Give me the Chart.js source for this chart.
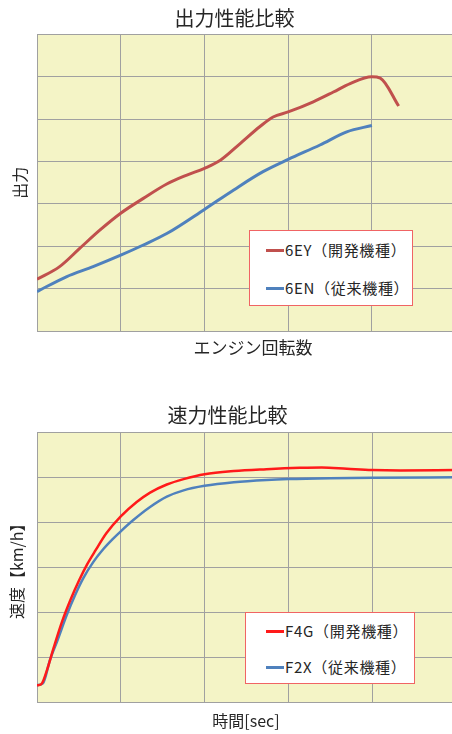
<!DOCTYPE html>
<html lang="ja">
<head>
<meta charset="utf-8">
<script src="https://cdn.jsdelivr.net/npm/chart.js@4.4.1/dist/chart.umd.min.js"></script>
<style>
  html, body { margin: 0; padding: 0; background: #fff; overflow: hidden; width: 452px; height: 734px; }
  .wrap { position: absolute; left: 0; }
  #wrap-top { top: 0; width: 506px; height: 360px; }
  #wrap-bottom { top: 380px; width: 496px; height: 354px; }
  .legend { position: absolute; background: #fff; border: 1px solid #f06464; box-sizing: border-box;
            font-family: "Noto Sans CJK JP", "Noto Sans", sans-serif; font-size: 15px; color: #262626; letter-spacing: 0.7px; }
  .legend div { position: absolute; white-space: nowrap; line-height: 18px; height: 18px; }
  .legend i { display: inline-block; width: 18px; height: 3px; vertical-align: middle; margin-right: 1px; position: relative; top: -1px; }
</style>
</head>
<body>
<div class="wrap" id="wrap-top"><canvas id="chart-top"></canvas></div>
<div class="wrap" id="wrap-bottom"><canvas id="chart-bottom"></canvas></div>
<div class="legend" id="legend-top" style="left:249px; top:230px; width:164px; height:76px;"></div>
<div class="legend" id="legend-bottom" style="left:245px; top:612px; width:170px; height:72px;"></div>
<script>
// 出力性能比較 (engine speed in grid units, output in grid units)
const rpmEY = [0, 0.27, 0.51, 0.75, 1.0, 1.27, 1.55, 1.79, 2.0, 2.19, 2.43, 2.66, 2.82, 3.0, 3.30, 3.54, 3.74, 4.0, 4.10, 4.32];
const powerEY = [1.22, 1.52, 1.95, 2.38, 2.78, 3.13, 3.47, 3.68, 3.84, 4.03, 4.43, 4.82, 5.05, 5.17, 5.41, 5.64, 5.84, 6.0, 5.97, 5.31];
const rpmEN = [0, 0.35, 0.67, 1.0, 1.27, 1.55, 2.0, 2.35, 2.70, 3.0, 3.38, 3.70, 4.0];
const powerEN = [0.93, 1.28, 1.52, 1.79, 2.03, 2.30, 2.87, 3.33, 3.76, 4.05, 4.39, 4.70, 4.85];

// 速力性能比較 (time in grid units, speed in grid units)
const timeF4G = [0, 0.05, 0.12, 0.2, 0.3, 0.4, 0.5, 0.6, 0.7, 0.83, 1.0, 1.19, 1.35, 1.55, 1.75, 2.0, 2.35, 2.74, 3.14, 3.4, 3.7, 4.0, 4.34, 4.99];
const speedF4G = [0.38, 0.40, 0.72, 1.22, 1.80, 2.28, 2.70, 3.07, 3.38, 3.76, 4.13, 4.45, 4.66, 4.84, 4.96, 5.07, 5.14, 5.18, 5.21, 5.22, 5.19, 5.16, 5.15, 5.16];
const timeF2X = [0, 0.07, 0.155, 0.245, 0.355, 0.454, 0.553, 0.673, 0.79, 0.9, 1.0, 1.15, 1.35, 1.55, 1.75, 2.0, 2.35, 2.74, 3.0, 3.5, 4.0, 4.99];
const speedF2X = [0.38, 0.42, 0.94, 1.38, 1.94, 2.38, 2.76, 3.12, 3.40, 3.62, 3.80, 4.05, 4.34, 4.57, 4.71, 4.81, 4.89, 4.94, 4.96, 4.98, 4.99, 5.0];

const topLabels = ["6EY（開発機種）", "6EN（従来機種）"];
const bottomLabels = ["F4G（開発機種）", "F2X（従来機種）"];

const font = "'Noto Sans CJK JP', 'Noto Sans', sans-serif";
const gridColor = "#a0a0a0";
const textColor = "#262626";

const plotBg = {
  id: "plotBg",
  beforeDraw(chart) {
    const a = chart.chartArea;
    const ctx = chart.ctx;
    ctx.save();
    ctx.fillStyle = "#f4f4c6";
    ctx.fillRect(a.left, a.top, a.right - a.left, a.bottom - a.top);
    ctx.restore();
  }
};

const toPoints = (xs, ys) => xs.map((x, i) => ({ x: x, y: ys[i] }));

function makeChart(id, cfg) {
  return new Chart(document.getElementById(id), {
    type: "line",
    data: {
      datasets: cfg.series.map(s => ({
        label: s.label,
        data: toPoints(s.xs, s.ys),
        borderColor: s.color,
        borderWidth: s.width,
        pointRadius: 0,
        cubicInterpolationMode: "monotone",
        fill: false
      }))
    },
    options: {
      responsive: true,
      maintainAspectRatio: false,
      animation: false,
      layout: { padding: { top: 0, left: 0, right: cfg.padRight, bottom: 0 } },
      plugins: {
        legend: { display: false },
        tooltip: { enabled: false },
        title: {
          display: true,
          text: cfg.title,
          color: textColor,
          font: { size: 20, weight: "normal", family: font },
          padding: cfg.titlePad
        }
      },
      scales: {
        x: {
          type: "linear",
          min: 0,
          max: cfg.xMax,
          grid: { color: gridColor, drawTicks: false },
          border: { color: gridColor },
          ticks: { display: false, stepSize: 1, includeBounds: false },
          title: {
            display: true,
            text: cfg.xTitle,
            color: textColor,
            font: { size: cfg.xTitleSize, family: font },
            padding: cfg.xTitlePad
          }
        },
        y: {
          min: 0,
          max: cfg.yMax,
          grid: { color: gridColor, drawTicks: false },
          border: { color: gridColor },
          ticks: { display: false, stepSize: 1 },
          title: {
            display: true,
            text: cfg.yTitle,
            color: textColor,
            font: { size: 16, family: font },
            padding: { top: cfg.yTitlePad, bottom: 0 }
          },
          afterFit(scale) { scale.width = 37; }
        }
      }
    },
    plugins: [plotBg]
  });
}

function makeLegend(id, labels, colors, rows, left) {
  const box = document.getElementById(id);
  labels.forEach((label, i) => {
    const row = document.createElement("div");
    row.style.left = left + "px";
    row.style.top = (rows[i] - 9) + "px";
    const swatch = document.createElement("i");
    swatch.style.background = colors[i];
    row.appendChild(swatch);
    row.appendChild(document.createTextNode(label));
    box.appendChild(row);
  });
}

const topColors = ["#c0504d", "#4f81bd"];
const bottomColors = ["#ff1a1a", "#4f81bd"];

makeChart("chart-top", {
  title: "出力性能比較",
  titlePad: { top: 6.5, bottom: 3.9 },
  xTitle: "エンジン回転数",
  xTitleSize: 17,
  xTitlePad: { top: 6, bottom: 2.6 },
  yTitle: "出力",
  yTitlePad: 10.4,
  xMax: 5.16,
  yMax: 7,
  padRight: 37,
  series: [
    { label: topLabels[0], xs: rpmEY, ys: powerEY, color: topColors[0], width: 3 },
    { label: topLabels[1], xs: rpmEN, ys: powerEN, color: topColors[1], width: 3 }
  ]
});

makeChart("chart-bottom", {
  title: "速力性能比較",
  titlePad: { top: 23, bottom: 5.3 },
  xTitle: "時間[sec]",
  xTitleSize: 16,
  xTitlePad: { top: 8.8, bottom: 3.7 },
  yTitle: "速度【km/h】",
  yTitlePad: 7,
  xMax: 4.99,
  yMax: 6,
  padRight: 41,
  series: [
    { label: bottomLabels[0], xs: timeF4G, ys: speedF4G, color: bottomColors[0], width: 2.5 },
    { label: bottomLabels[1], xs: timeF2X, ys: speedF2X, color: bottomColors[1], width: 2.5 }
  ]
});

makeLegend("legend-top", topLabels, topColors, [19, 57], 16);
makeLegend("legend-bottom", bottomLabels, bottomColors, [17.5, 54], 20);
</script>
</body>
</html>
